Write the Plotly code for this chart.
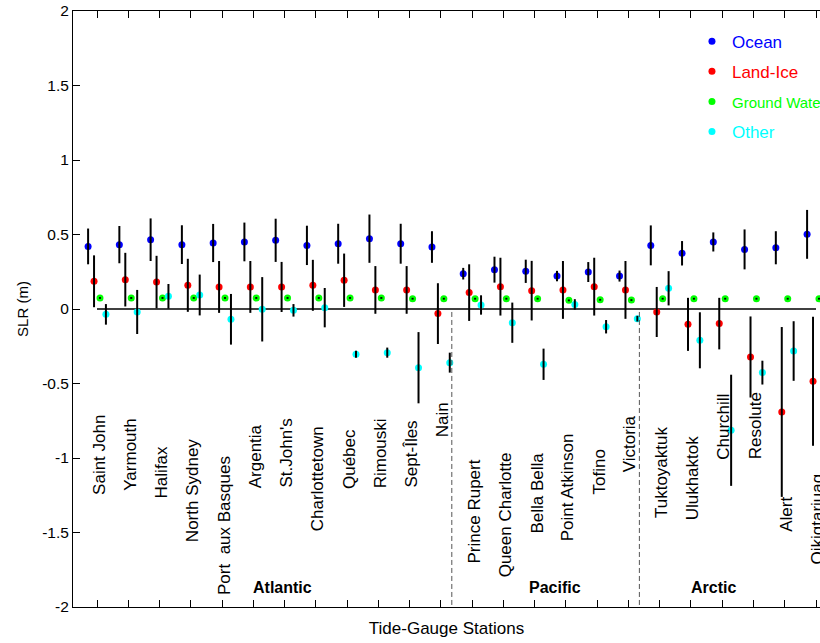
import plotly.graph_objects as go

# ---------------- data ----------------
stations = ["Saint John", "Yarmouth", "Halifax", "North Sydney", "Port  aux Basques",
            "Argentia", "St.John's", "Charlottetown", "Québec", "Rimouski", "Sept-Îles",
            "Nain", "Prince Rupert", "Queen Charlotte", "Bella Bella", "Point Atkinson",
            "Tofino", "Victoria", "Tuktoyaktuk", "Ulukhaktok", "Churchill", "Resolute",
            "Alert", "Qikiqtarjuaq"]
regions = ["Atlantic", "Pacific", "Arctic"]
region_sizes = [12, 6, 6]

ocean = [0.42, 0.432, 0.465, 0.432, 0.443, 0.45, 0.461, 0.427, 0.438, 0.472, 0.438, 0.416,
         0.237, 0.264, 0.253, 0.221, 0.248, 0.221, 0.427, 0.374, 0.45, 0.40, 0.411, 0.501]
ocean_err = [0.12, 0.125, 0.143, 0.13, 0.128, 0.13, 0.145, 0.132, 0.134, 0.162, 0.134, 0.106,
             0.039, 0.087, 0.078, 0.035, 0.067, 0.037, 0.134, 0.082, 0.064, 0.134, 0.111, 0.164]

land_ice = [0.186, 0.197, 0.181, 0.159, 0.148, 0.148, 0.148, 0.159, 0.193, 0.128, 0.128, -0.031,
            0.11, 0.15, 0.123, 0.128, 0.15, 0.128, -0.02, -0.103, -0.098, -0.322, -0.691, -0.485]
land_ice_err = [0.174, 0.18, 0.176, 0.178, 0.174, 0.174, 0.168, 0.171, 0.179, 0.16, 0.16, 0.204,
                0.19, 0.194, 0.2, 0.194, 0.194, 0.194, 0.168, 0.178, 0.173, 0.272, 0.57, 0.433]

ground_water = [0.074, 0.074, 0.074, 0.074, 0.074, 0.074, 0.074, 0.074, 0.074, 0.074, 0.069, 0.069,
                0.069, 0.069, 0.069, 0.058, 0.062, 0.06, 0.069, 0.069, 0.069, 0.069, 0.069, 0.069]
ground_water_err = [0.006] * 24

other = [-0.036, -0.02, 0.085, 0.094, -0.069, -0.002, -0.009, 0.009, -0.304, -0.293, -0.394, -0.36,
         0.027, -0.092, -0.371, 0.031, -0.119, -0.065, 0.139, -0.21, -0.814, -0.427, -0.282, -0.75]
other_err = [0.069, 0.148, 0.083, 0.137, 0.17, 0.216, 0.042, 0.132, 0.023, 0.034, 0.239, 0.067,
             0.065, 0.135, 0.105, 0.035, 0.045, 0.019, 0.115, 0.188, 0.373, 0.08, 0.2, 0.3]

ytick_vals = [-2, -1.5, -1, -0.5, 0, 0.5, 1, 1.5, 2]
ytick_text = ["-2", "-1.5", "-1", "-0.5", "0", "0.5", "1", "1.5", "2"]

# ---------------- layout helpers (positions/styles) ----------------
label_y = [-0.98, -0.977, -1.094, -1.218, -1.45, -0.987, -0.967, -1.138, -1.007, -0.967, -0.973,
           -0.742, -1.359, -1.383, -1.235, -1.198, -1.097, -0.906, -1.097, -1.131, -0.79, -0.784,
           -1.377, -1.407]
region_label_x = [6.93, 15.65, 20.72]
region_label_y = -1.872

FONT = "Liberation Sans, Arial, sans-serif"
xpos = list(range(1, len(stations) + 1))

series = [
    ("Ocean", ocean, ocean_err, "#0000ff", -0.285, 17),
    ("Land-Ice", land_ice, land_ice_err, "#ff0000", -0.095, 17),
    ("Ground Water", ground_water, ground_water_err, "#00ff00", 0.095, 15),
    ("Other", other, other_err, "#00ffff", 0.285, 17),
]

fig = go.Figure()

# zero line
fig.add_trace(go.Scatter(x=[xpos[0], xpos[-1]], y=[0, 0], mode="lines",
                         line=dict(color="black", width=1.5), showlegend=False, hoverinfo="skip"))

for name, vals, errs, col, off, fs in series:
    xs = [x + off for x in xpos]
    fig.add_trace(go.Scatter(
        x=xs, y=vals, mode="markers",
        marker=dict(color=col, size=7, line=dict(width=0)),
        name=f"<span style='color:{col};font-size:{fs}px'>{name}</span>",
        legendgroup=name, showlegend=True))
for name, vals, errs, col, off, fs in series:
    xs = [x + off for x in xpos]
    fig.add_trace(go.Scatter(
        x=xs, y=vals, mode="markers",
        marker=dict(color="rgba(0,0,0,0)", size=1),
        error_y=dict(type="data", array=errs, symmetric=True, color="black",
                     thickness=2, width=0),
        showlegend=False, legendgroup=name, hoverinfo="skip"))

# station labels
annotations = []
for i, s in enumerate(stations):
    annotations.append(dict(x=xpos[i] + 0.06, y=label_y[i], text=s, textangle=-90,
                            showarrow=False, xanchor="center", yanchor="middle",
                            font=dict(family=FONT, size=17, color="black")))
for r, rx in zip(regions, region_label_x):
    annotations.append(dict(x=rx, y=region_label_y, text=f"<b>{r}</b>", showarrow=False,
                            xanchor="center", yanchor="middle",
                            font=dict(family=FONT, size=16, color="black")))

# region separators
shapes = []
cum = 0
for n in region_sizes[:-1]:
    cum += n
    shapes.append(dict(type="line", xref="x", yref="y", x0=cum + 0.35, x1=cum + 0.35,
                       y0=-0.02, y1=-2, line=dict(color="#555555", width=1, dash="5px,3px")))

fig.update_layout(
    width=820, height=643,
    margin=dict(l=73, r=0, t=11, b=36, autoexpand=False),
    paper_bgcolor="white", plot_bgcolor="white",
    font=dict(family=FONT, size=15, color="black"),
    annotations=annotations, shapes=shapes,
    showlegend=True,
    legend=dict(x=0.8286, y=0.9787, xanchor="left", yanchor="top",
                bgcolor="rgba(0,0,0,0)", borderwidth=0,
                font=dict(family=FONT, size=17), tracegroupgap=5),
    xaxis=dict(range=[0.232, 24.128], showline=True, linecolor="black", linewidth=1,
               mirror="ticks", ticks="inside", ticklen=7, tickcolor="black",
               tickvals=xpos, showticklabels=False, showgrid=False, zeroline=False,
               title=dict(text="Tide-Gauge Stations", standoff=15,
                          font=dict(family=FONT, size=17))),
    yaxis=dict(range=[-2, 2], showline=True, linecolor="black", linewidth=1,
               ticks="inside", ticklen=7, tickcolor="black",
               tickvals=ytick_vals, ticktext=ytick_text,
               tickfont=dict(family=FONT, size=15.5),
               showgrid=False, zeroline=False,
               title=dict(text="SLR (m)", standoff=9, font=dict(family=FONT, size=15))),
)

fig.write_html("out.html")
